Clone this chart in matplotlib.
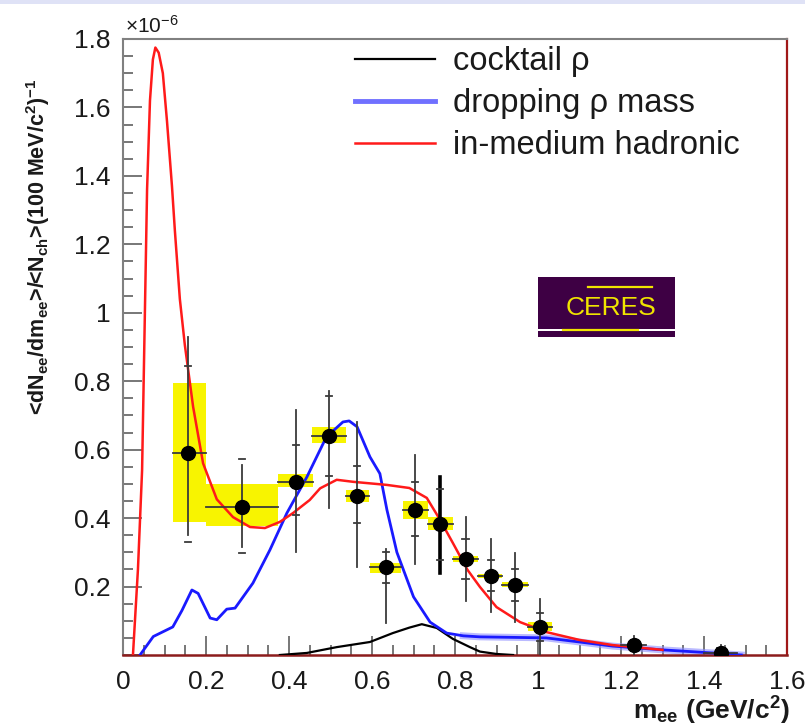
import matplotlib
matplotlib.use("Agg")
import matplotlib.pyplot as plt
from matplotlib.patches import Rectangle
from matplotlib.ticker import MultipleLocator, FormatStrFormatter
from matplotlib.lines import Line2D

plt.rcParams['font.family'] = ['Liberation Sans', 'DejaVu Sans']
plt.rcParams['mathtext.fontset'] = 'custom'
plt.rcParams['mathtext.rm'] = 'Liberation Sans'
plt.rcParams['mathtext.it'] = 'Liberation Sans:italic'
plt.rcParams['mathtext.bf'] = 'Liberation Sans:bold'

# data points (y in units of 1e-6)
m_pts = [0.157, 0.287, 0.417, 0.496, 0.564, 0.634, 0.704, 0.764, 0.826, 0.887, 0.945, 1.005, 1.231, 1.44]
y_pts = [0.59, 0.433, 0.506, 0.64, 0.465, 0.257, 0.424, 0.383, 0.281, 0.231, 0.205, 0.082, 0.029, 0.006]
bin_lo = [0.12, 0.2, 0.373, 0.455, 0.537, 0.595, 0.675, 0.735, 0.795, 0.855, 0.913, 0.975, 1.20, 1.40]
bin_hi = [0.2, 0.373, 0.458, 0.537, 0.593, 0.67, 0.735, 0.795, 0.855, 0.913, 0.975, 1.033, 1.26, 1.48]
stat_hi = [0.93, 0.556, 0.716, 0.77, 0.68, 0.31, 0.585, 0.52, 0.404, 0.339, 0.298, 0.164, 0.055, 0.03]
stat_lo = [0.35, 0.316, 0.30, 0.43, 0.257, 0.094, 0.266, 0.24, 0.158, 0.125, 0.096, 0.0, 0.0, 0.0]
cap_hi = [0.845, 0.573, 0.614, 0.757, 0.553, 0.30, 0.506, 0.485, 0.339, 0.278, 0.25, 0.123, 0.045, 0.02]
cap_lo = [0.33, 0.298, 0.41, 0.523, 0.386, 0.21, 0.348, 0.278, 0.222, 0.187, 0.158, 0.04, 0.013, 0.0]
# systematic boxes (first 12 points)
box_lo = [0.39, 0.377, 0.49, 0.62, 0.447, 0.24, 0.398, 0.365, 0.272, 0.225, 0.199, 0.07]
box_hi = [0.795, 0.50, 0.53, 0.667, 0.482, 0.27, 0.45, 0.404, 0.29, 0.238, 0.212, 0.095]

# in-medium hadronic
red_m = [0.024, 0.036, 0.046, 0.052, 0.058, 0.065, 0.072, 0.078, 0.086, 0.096, 0.106, 0.118, 0.125, 0.137,
         0.149, 0.169, 0.193, 0.226, 0.265, 0.306, 0.342, 0.378, 0.41, 0.45, 0.475, 0.515, 0.555, 0.636,
         0.69, 0.732, 0.764, 0.795, 0.83, 0.86, 0.9, 0.957, 1.02, 1.1, 1.18, 1.3]
red_y = [0.0, 0.25, 0.54, 0.95, 1.36, 1.62, 1.74, 1.775, 1.76, 1.70, 1.56, 1.37, 1.24, 1.04,
         0.906, 0.725, 0.56, 0.455, 0.403, 0.374, 0.371, 0.389, 0.415, 0.453, 0.487, 0.512, 0.506, 0.497,
         0.488, 0.459, 0.395, 0.327, 0.249, 0.199, 0.14, 0.096, 0.067, 0.044, 0.029, 0.015]
# dropping rho mass
blue_m = [0.041, 0.073, 0.12, 0.142, 0.166, 0.181, 0.21, 0.226, 0.25, 0.27, 0.313, 0.354, 0.395, 0.443,
          0.49, 0.53, 0.545, 0.564, 0.595, 0.619, 0.636, 0.66, 0.7, 0.74, 0.78, 0.82, 0.86, 1.02, 1.1, 1.18,
          1.3, 1.42, 1.49]
blue_y = [0.0, 0.054, 0.082, 0.13, 0.19, 0.18, 0.108, 0.103, 0.134, 0.137, 0.21, 0.307, 0.415, 0.52,
          0.637, 0.681, 0.684, 0.667, 0.579, 0.53, 0.424, 0.3, 0.17, 0.096, 0.064, 0.056, 0.053, 0.05, 0.038,
          0.026, 0.015, 0.006, 0.0]
# cocktail rho
black_m = [0.378, 0.443, 0.515, 0.595, 0.65, 0.69, 0.72, 0.756, 0.795, 0.836, 0.86, 0.9, 0.94]
black_y = [0.0, 0.006, 0.023, 0.038, 0.064, 0.08, 0.09, 0.079, 0.047, 0.023, 0.01, 0.003, 0.0]

W, H = 805, 726
fig = plt.figure(figsize=(W / 100, H / 100), dpi=100)
ax = fig.add_axes([123 / W, 1 - 655 / H, (787 - 123) / W, (655 - 39) / H])

# thin lavender strip at the top of the image
fig.add_artist(Rectangle((0, 1 - 4 / H), 1, 4 / H, transform=fig.transFigure, color='#dfe2f6', lw=0))

# yellow boxes
for i in range(len(box_lo)):
    ax.add_patch(Rectangle((bin_lo[i], box_lo[i]), bin_hi[i] - bin_lo[i], box_hi[i] - box_lo[i],
                           color='#f8f400', lw=0, zorder=1))

# curves
ax.plot(black_m, black_y, color='black', lw=1.6, zorder=3)
ax.plot(blue_m[25:], blue_y[25:], color='#8c8cff', lw=5, alpha=0.6, zorder=2)
ax.plot(blue_m, blue_y, color='#1a1aff', lw=2.0, zorder=3)
ax.plot(red_m, red_y, color='#ff1a1a', lw=1.8, zorder=4)

# error bars
for i in range(len(m_pts)):
    lw = 2.6 if i == 7 else 1.3
    c = 'black' if i == 7 else '#3a3a3a'
    ax.plot([m_pts[i], m_pts[i]], [stat_lo[i], stat_hi[i]], color=c, lw=lw, zorder=5)
    ax.plot([bin_lo[i], bin_hi[i]], [y_pts[i], y_pts[i]], color='#3a3a3a', lw=1.3, zorder=5)
    for yc in (cap_lo[i], cap_hi[i]):
        ax.plot([m_pts[i] - 0.008, m_pts[i] + 0.008], [yc, yc], color='#3a3a3a', lw=1.3, zorder=5)
ax.plot(m_pts, y_pts, 'o', color='black', ms=10, zorder=6)

ax.set_xlim(0, 1.6)
ax.set_ylim(0, 1.8)
ax.xaxis.set_major_locator(MultipleLocator(0.2))
ax.xaxis.set_minor_locator(MultipleLocator(0.05))
ax.yaxis.set_major_locator(MultipleLocator(0.2))
ax.yaxis.set_minor_locator(MultipleLocator(0.05))
ax.xaxis.set_major_formatter(FormatStrFormatter('%g'))
ax.yaxis.set_major_formatter(plt.FuncFormatter(lambda v, p: '' if abs(v) < 1e-9 else '%g' % round(v, 2)))
ax.tick_params(which='both', direction='in', color='#606060', width=1.2, labelsize=19, labelcolor='#1a1a1a')
ax.tick_params(which='major', length=14)
ax.tick_params(which='minor', length=7)
ax.tick_params(axis='y', pad=9)
ax.tick_params(axis='x', pad=11)
for s in ('top', 'left'):
    ax.spines[s].set_color('#808080')
    ax.spines[s].set_linewidth(1.5)
ax.spines['right'].set_color('#a01818')
ax.spines['right'].set_linewidth(1.6)
ax.spines['bottom'].set_color('#8c1c1c')
ax.spines['bottom'].set_linewidth(1.8)

# legend
handles = [Line2D([], [], color='black', lw=1.6),
           Line2D([], [], color='#7070ff', lw=3.5),
           Line2D([], [], color='#ff1a1a', lw=1.8)]
labels = ['cocktail ρ', 'dropping ρ mass', 'in-medium hadronic']
ax.legend(handles, labels, loc='upper left', bbox_to_anchor=(0.305, 1.036),
          frameon=False, fontsize=23.5, handlelength=2.45, handletextpad=0.55, labelspacing=0.34,
          labelcolor='#1a1a1a')

# CERES logo
ax.add_patch(Rectangle((1.0, 0.953), 0.33, 0.152, color='#3e0044', lw=0, zorder=7))
ax.add_patch(Rectangle((1.0, 0.93), 0.33, 0.017, color='#3e0044', lw=0, zorder=7))
ax.plot([1.12, 1.275], [1.075, 1.075], color='#f0e400', lw=1.6, zorder=8)
ax.plot([1.06, 1.24], [0.95, 0.95], color='#f0e400', lw=1.6, zorder=8)
ax.text(1.175, 1.013, 'CERES', color='#f0e400', fontsize=19, ha='center', va='center', zorder=8)

# labels
fig.text(125 / W, 1 - 26 / H, '×10$^{-6}$', fontsize=15, color='#1a1a1a', ha='left', va='center')
fig.text(790 / W, 1 - 720 / H, r'$\mathbf{m}_{\mathbf{ee}}$ (GeV/c$^{\mathbf{2}}$)', fontsize=19,
         fontweight='bold', ha='right', va='baseline', color='#1a1a1a')
fig.text(38 / W, 1 - 247 / H,
         r'<dN$_{\mathbf{ee}}$/dm$_{\mathbf{ee}}$>/<N$_{\mathbf{ch}}$>(100 MeV/c$^{\mathbf{2}}$)$^{\mathbf{-1}}$',
         fontsize=15.5, fontweight='bold', rotation=90, ha='center', va='center', color='#1a1a1a')

fig.savefig('out.png', dpi=100)
